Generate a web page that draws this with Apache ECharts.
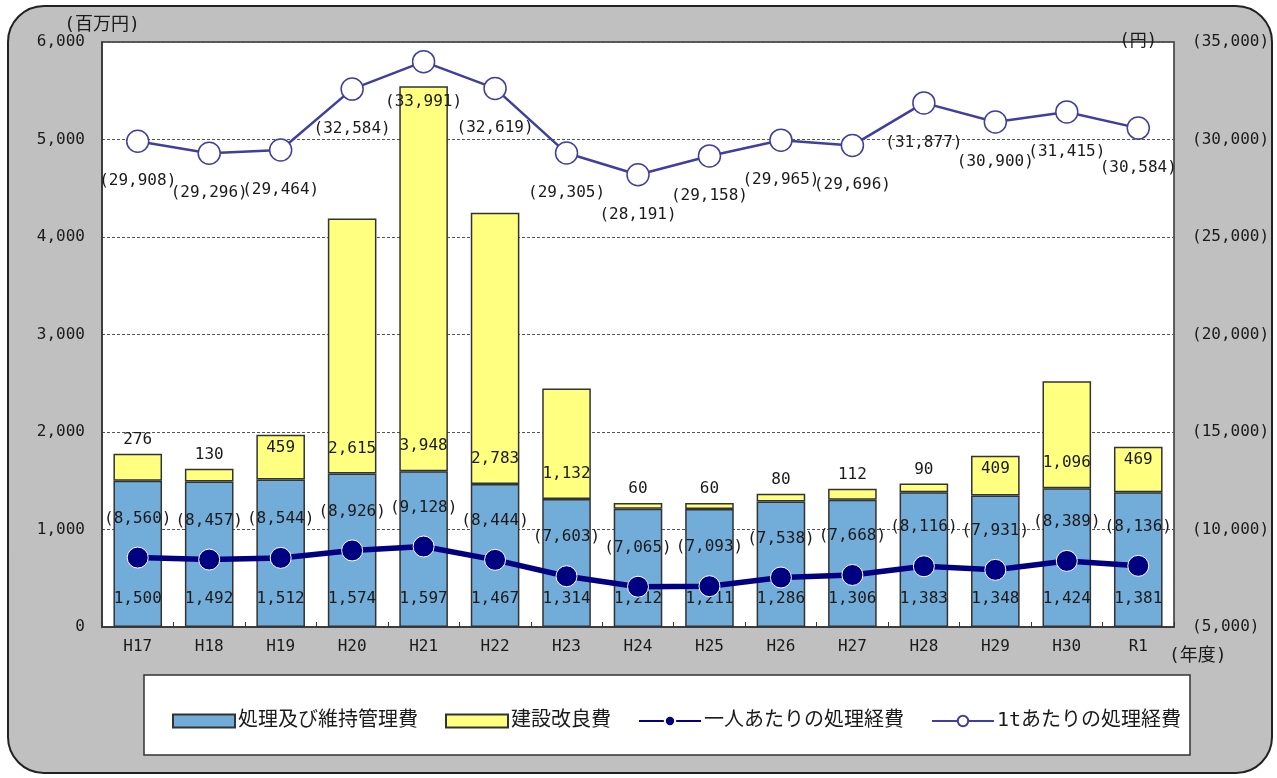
<!DOCTYPE html>
<html>
<head>
<meta charset="utf-8">
<script src="https://cdn.jsdelivr.net/npm/echarts@6/dist/echarts.min.js"></script>
<style>
  html, body { margin: 0; padding: 0; background: #fff; }
  #chart { width: 1277px; height: 778px; }
</style>
</head>
<body>
<div id="chart"></div>
<script>
const years = ['H17', 'H18', 'H19', 'H20', 'H21', 'H22', 'H23', 'H24', 'H25', 'H26', 'H27', 'H28', 'H29', 'H30', 'R1'];
const maintenanceCost = [1500, 1492, 1512, 1574, 1597, 1467, 1314, 1212, 1211, 1286, 1306, 1383, 1348, 1424, 1381];
const constructionCost = [276, 130, 459, 2615, 3948, 2783, 1132, 60, 60, 80, 112, 90, 409, 1096, 469];
const perPersonCost = [8560, 8457, 8544, 8926, 9128, 8444, 7603, 7065, 7093, 7538, 7668, 8116, 7931, 8389, 8136];
const perTonCost = [29908, 29296, 29464, 32584, 33991, 32619, 29305, 28191, 29158, 29965, 29696, 31877, 30900, 31415, 30584];

const FONT = '"DejaVu Sans Mono", "Noto Sans CJK JP", monospace';
const TEXT = '#1a1a1a';
const chart = echarts.init(document.getElementById('chart'));

const fmt = (v) => v.toLocaleString('en-US');

// 建設改良費のラベル位置（小さい値は棒の上、大きい値は区間の下寄り）
function constructionLabel(v) {
  if (v >= 1000) return { position: 'insideBottom', distance: 17 };
  if (v >= 300) return { position: 'insideTop', distance: 5 };
  return { position: 'top', distance: 6 };
}

const option = {
  backgroundColor: '#ffffff',
  textStyle: { fontFamily: FONT },
  graphic: [
    {
      type: 'rect',
      z: -10,
      shape: { x: 8, y: 6, width: 1264, height: 767, r: 36 },
      style: { fill: '#c0c0c0', stroke: '#222', lineWidth: 2 },
    },
    {
      type: 'rect',
      z: -5,
      shape: { x: 144, y: 675, width: 1046, height: 80 },
      style: { fill: '#ffffff', stroke: '#333', lineWidth: 1.5 },
    },
  ],
  grid: {
    left: 102,
    right: 103,
    top: 42,
    bottom: 151,
    show: true,
    backgroundColor: '#ffffff',
    borderColor: '#333',
    borderWidth: 1.5,
  },
  legend: {
    left: 167,
    top: 706,
    itemGap: 27,
    itemWidth: 62,
    itemHeight: 13,
    textStyle: { fontFamily: FONT, fontSize: 20, color: TEXT, padding: [0, 0, 0, -2] },
    data: [
      { name: '処理及び維持管理費', icon: 'rect' },
      { name: '建設改良費', icon: 'rect' },
      { name: '一人あたりの処理経費' },
      { name: '1tあたりの処理経費' },
    ],
  },
  xAxis: {
    type: 'category',
    data: years,
    name: '(年度)',
    nameLocation: 'end',
    nameGap: -5,
    nameTextStyle: { fontSize: 18, color: TEXT, align: 'left', verticalAlign: 'top', padding: [20, 0, 0, 0] },
    axisLine: { lineStyle: { color: '#333', width: 1.5 } },
    axisTick: { show: true, inside: true, length: 5, lineStyle: { color: '#333' } },
    axisLabel: { fontSize: 16, color: TEXT, margin: 12 },
  },
  yAxis: [
    {
      type: 'value',
      min: 0,
      max: 6000,
      interval: 1000,
      name: '(百万円)',
      nameLocation: 'end',
      nameGap: 7,
      nameTextStyle: { fontSize: 18, color: TEXT, align: 'center' },
      axisLine: { show: true, lineStyle: { color: '#333', width: 1.5 } },
      axisTick: { show: false },
      axisLabel: { fontSize: 16, color: TEXT, margin: 17, formatter: (v) => fmt(v) },
      splitLine: { lineStyle: { color: '#555', type: [3, 2], width: 1 } },
    },
    {
      type: 'value',
      min: 5000,
      max: 35000,
      interval: 5000,
      position: 'right',
      name: '(円)',
      nameLocation: 'end',
      nameGap: 0,
      nameTextStyle: { fontSize: 17, color: TEXT, align: 'right', verticalAlign: 'middle', padding: [0, 17, 0, 0] },
      axisLine: { show: false },
      axisTick: { show: false },
      axisLabel: { fontSize: 16, color: TEXT, margin: 18, formatter: (v) => '(' + fmt(v) + ')' },
      splitLine: { show: false },
    },
  ],
  series: [
    {
      name: '処理及び維持管理費',
      type: 'bar',
      stack: 'cost',
      barWidth: '68%',
      data: maintenanceCost,
      itemStyle: { color: '#72acd9', borderColor: '#333', borderWidth: 1.5 },
      label: {
        show: true,
        position: 'insideBottom',
        distance: 20,
        fontSize: 16,
        color: TEXT,
        formatter: (p) => fmt(p.value),
      },
    },
    {
      name: '建設改良費',
      type: 'bar',
      stack: 'cost',
      data: constructionCost.map((v) => ({ value: v, label: constructionLabel(v) })),
      itemStyle: { color: '#ffff80', borderColor: '#333', borderWidth: 1.5 },
      label: {
        show: true,
        fontSize: 16,
        color: TEXT,
        formatter: (p) => fmt(p.value),
      },
    },
    {
      name: '一人あたりの処理経費',
      type: 'line',
      yAxisIndex: 1,
      z: 5,
      data: perPersonCost,
      symbol: 'circle',
      symbolSize: 21,
      lineStyle: { color: '#000080', width: 5.5 },
      itemStyle: { color: '#000080', borderColor: '#ffffff', borderWidth: 1 },
      label: {
        show: true,
        position: 'top',
        distance: 20,
        fontSize: 16,
        color: TEXT,
        formatter: (p) => '(' + fmt(p.value) + ')',
      },
    },
    {
      name: '1tあたりの処理経費',
      type: 'line',
      yAxisIndex: 1,
      z: 5,
      data: perTonCost,
      symbol: 'circle',
      symbolSize: 22,
      lineStyle: { color: '#3f3f9f', width: 2.5 },
      itemStyle: { color: '#ffffff', borderColor: '#3f3f9f', borderWidth: 1.5 },
      label: {
        show: true,
        position: 'bottom',
        distance: 20,
        fontSize: 16,
        color: TEXT,
        formatter: (p) => '(' + fmt(p.value) + ')',
      },
    },
  ],
};

chart.setOption(option);
</script>
</body>
</html>
